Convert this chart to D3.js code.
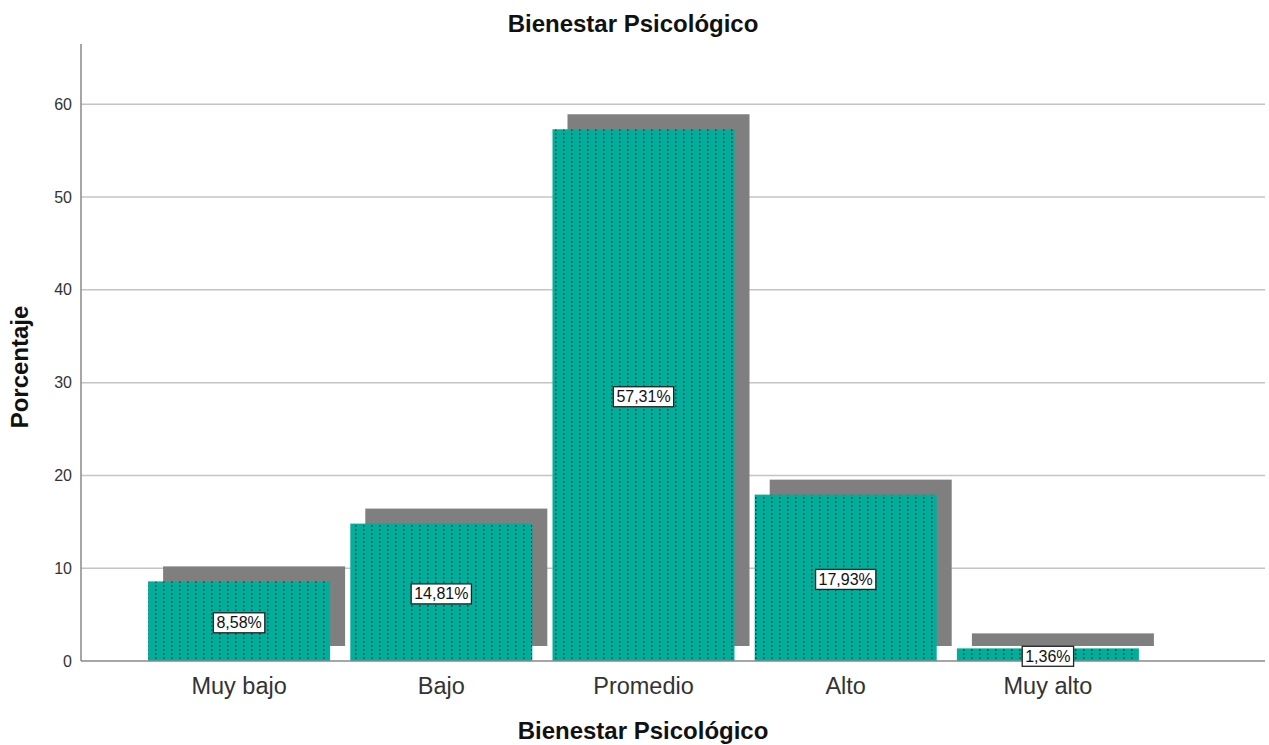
<!DOCTYPE html>
<html><head><meta charset="utf-8">
<script src="https://cdn.jsdelivr.net/npm/d3@7"></script>
<style>body{margin:0;background:#fff}svg{display:block}text{font-family:"Liberation Sans",Arial,sans-serif}</style>
</head><body>
<svg id="c" width="1269" height="745"></svg>
<script>
const categories = ["Muy bajo","Bajo","Promedio","Alto","Muy alto"];
const values = [8.58, 14.81, 57.31, 17.93, 1.36];
const labels = ["8,58%","14,81%","57,31%","17,93%","1,36%"];
const yTicks = [0,10,20,30,40,50,60];

const svg = d3.select("#c");
const x0 = 81, xEnd = 1265, yBase = 661, yTop = 44;
const y = d3.scaleLinear().domain([0,66.5]).range([yBase,yTop]);
const x = d3.scaleBand().domain(categories).range([138,1149]).paddingInner(0.1).paddingOuter(0.05);

const defs = svg.append("defs");
const pat = defs.append("pattern").attr("id","dots").attr("patternUnits","userSpaceOnUse")
  .attr("width",8).attr("height",4).attr("x",3).attr("y",1);
pat.append("rect").attr("width",8).attr("height",4).attr("fill","#00ae9c");
pat.append("rect").attr("x",0).attr("y",0).attr("width",1.5).attr("height",2).attr("fill","#08574e");

// gridlines
svg.append("g").selectAll("line").data(yTicks.filter(d=>d>0)).join("line")
  .attr("x1",x0).attr("x2",xEnd).attr("y1",d=>y(d)).attr("y2",d=>y(d))
  .attr("stroke","#c4c4c4").attr("stroke-width",1.5);

// y axis
const yAxis = d3.axisLeft(y).tickValues(yTicks).tickSize(0).tickPadding(9);
const ga = svg.append("g").attr("transform",`translate(${x0},0)`).call(yAxis);
ga.select(".domain").remove();
ga.selectAll("text").attr("font-size",16).attr("fill","#333");
svg.append("line").attr("x1",x0).attr("x2",x0).attr("y1",yTop).attr("y2",yBase)
  .attr("stroke","#888").attr("stroke-width",1.5);

const bw = 182, off = 15;
// shadows
svg.append("g").selectAll("rect").data(values).join("rect")
  .attr("x",(d,i)=>x(categories[i])+ (x.bandwidth()-bw)/2 + off)
  .attr("y",d=>y(d)-off).attr("width",bw)
  .attr("height",d=>Math.max(0,y(0)-y(d)))
  .attr("fill","#7f7f7f");
// bars
svg.append("g").selectAll("rect").data(values).join("rect")
  .attr("x",(d,i)=>x(categories[i])+ (x.bandwidth()-bw)/2)
  .attr("y",d=>y(d)).attr("width",bw)
  .attr("height",d=>y(0)-y(d))
  .attr("fill","url(#dots)");

// baseline
svg.append("line").attr("x1",x0).attr("x2",xEnd).attr("y1",yBase).attr("y2",yBase)
  .attr("stroke","#888").attr("stroke-width",1.5);

// value labels
const lg = svg.append("g").selectAll("g").data(values).join("g")
  .attr("transform",(d,i)=>`translate(${x(categories[i])+x.bandwidth()/2},${(y(0)+y(d))/2+1.5})`);
lg.append("text").attr("text-anchor","middle").attr("dy","0.35em")
  .attr("font-size",16).attr("fill","#111").text((d,i)=>labels[i])
  .each(function(){
    const b=this.getBBox();
    d3.select(this.parentNode).insert("rect","text")
      .attr("x",b.x-3).attr("y",b.y-1.5).attr("width",b.width+6).attr("height",b.height+3)
      .attr("fill","#fff").attr("stroke","#222").attr("stroke-width",1.3);
  });

// category labels
svg.append("g").selectAll("text").data(categories).join("text")
  .attr("x",d=>x(d)+x.bandwidth()/2).attr("y",694)
  .attr("text-anchor","middle").attr("font-size",23.5).attr("fill","#333").text(d=>d);

// titles
svg.append("text").attr("x",633).attr("y",32).attr("text-anchor","middle")
  .attr("font-size",24).attr("font-weight","bold").attr("fill","#111").text("Bienestar Psicológico");
svg.append("text").attr("x",643).attr("y",739).attr("text-anchor","middle")
  .attr("font-size",24).attr("font-weight","bold").attr("fill","#111").text("Bienestar Psicológico");
svg.append("text").attr("transform","translate(28,367) rotate(-90)").attr("text-anchor","middle")
  .attr("font-size",24).attr("font-weight","bold").attr("fill","#111").text("Porcentaje");
</script>
</body></html>
